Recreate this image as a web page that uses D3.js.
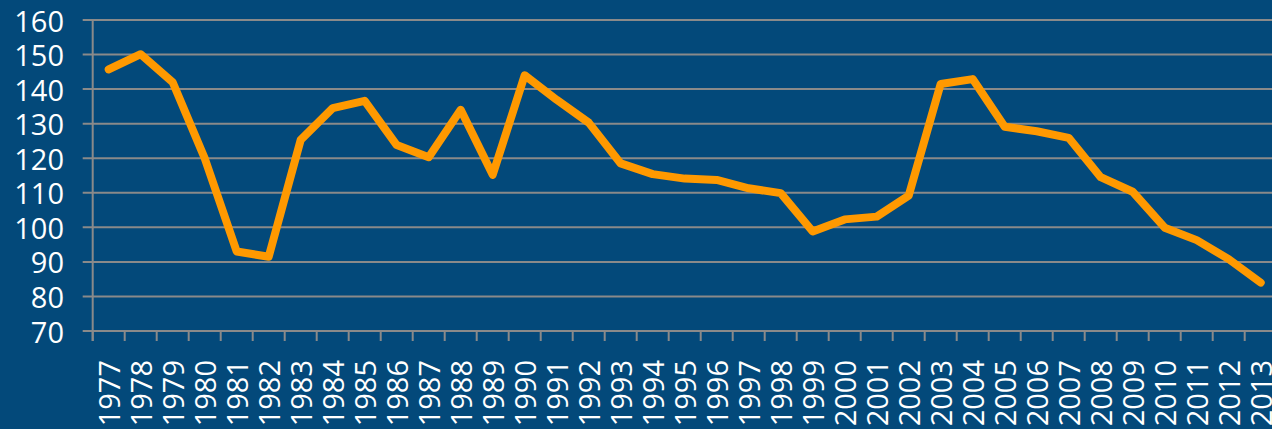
<!DOCTYPE html>
<html>
<head>
<meta charset="utf-8">
<script src="https://cdn.jsdelivr.net/npm/d3@7"></script>
<style>
html,body{margin:0;padding:0;background:#03497A;overflow:hidden;}
svg{display:block;}
</style>
</head>
<body>
<script>
const years = ["1977","1978","1979","1980","1981","1982","1983","1984","1985","1986","1987","1988","1989","1990","1991","1992","1993","1994","1995","1996","1997","1998","1999","2000","2001","2002","2003","2004","2005","2006","2007","2008","2009","2010","2011","2012","2013"];
const values = [145.7,150.1,142.0,120.0,93.0,91.5,125.3,134.5,136.6,123.8,120.3,134.0,115.2,144.0,136.9,130.3,118.5,115.4,114.1,113.7,111.3,109.9,98.8,102.3,103.1,109.2,141.5,142.9,129.1,127.8,125.9,114.5,110.3,99.9,96.3,90.8,84.0];
const yTicks = [70,80,90,100,110,120,130,140,150,160];

const W = 1272, H = 429;
const left = 92.7, step = 32.0;
const svg = d3.select("body").append("svg").attr("width", W).attr("height", H);

const x = d3.scaleBand().domain(years).range([left, left + step * years.length]).paddingInner(0).paddingOuter(0);
const y = d3.scaleLinear().domain([70,160]).range([331,20]);

const font = "'Open Sans','Noto Sans',sans-serif";

// gridlines
svg.append("g").selectAll("line").data(yTicks).join("line")
  .attr("x1", left - 10).attr("x2", W)
  .attr("y1", d => y(d)).attr("y2", d => y(d))
  .attr("stroke", "#8a8a8a").attr("stroke-width", 2);

// y axis line
svg.append("line").attr("x1", left).attr("x2", left).attr("y1", y(160)).attr("y2", y(70) + 10)
  .attr("stroke", "#8a8a8a").attr("stroke-width", 2);

// x ticks at band boundaries
const bounds = years.map(d => x(d)).concat([x(years[years.length-1]) + x.bandwidth()]);
svg.append("g").selectAll("line").data(bounds).join("line")
  .attr("x1", d => d).attr("x2", d => d)
  .attr("y1", y(70)).attr("y2", y(70) + 10)
  .attr("stroke", "#8a8a8a").attr("stroke-width", 2);

// y labels
svg.append("g").selectAll("text").data(yTicks).join("text")
  .attr("x", 64).attr("y", d => y(d))
  .attr("text-anchor", "end").attr("dominant-baseline", "central")
  .attr("fill", "#fff").attr("font-family", font).attr("font-size", 29)
  .text(d => d);

// x labels rotated
svg.append("g").selectAll("text").data(years).join("text")
  .attr("transform", d => `translate(${x(d) + x.bandwidth()/2},360) rotate(-90)`)
  .attr("text-anchor", "end").attr("dominant-baseline", "central")
  .attr("fill", "#fff").attr("font-family", font).attr("font-size", 29)
  .text(d => d);

// line
const line = d3.line()
  .x((d,i) => x(years[i]) + x.bandwidth()/2)
  .y(d => y(d));
svg.append("path").datum(values)
  .attr("d", line)
  .attr("fill", "none").attr("stroke", "#FF9900").attr("stroke-width", 8)
  .attr("stroke-linejoin", "round").attr("stroke-linecap", "round");
</script>
</body>
</html>
